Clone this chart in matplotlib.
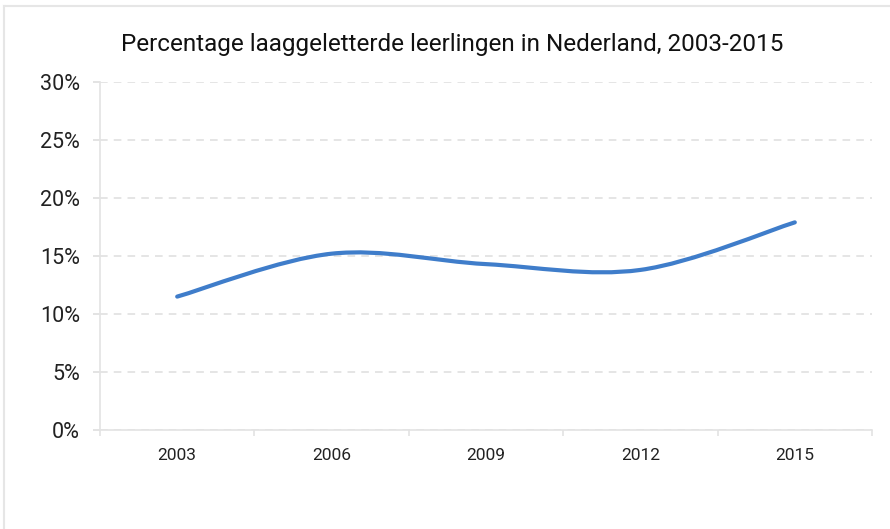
import numpy as np
import matplotlib
matplotlib.use('Agg')
import matplotlib.pyplot as plt
from matplotlib.path import Path
from matplotlib.patches import PathPatch
from matplotlib.lines import Line2D

years = ['2003', '2006', '2009', '2012', '2015']
percentages = [11.5, 15.2, 14.3, 13.8, 17.9]
y_ticks = [0, 5, 10, 15, 20, 25, 30]
title = 'Percentage laaggeletterde leerlingen in Nederland, 2003-2015'

line_color = '#3F7DCA'
grid_color = '#DEDEDE'
axis_color = '#E3E3E3'

plt.rcParams['font.family'] = ['Roboto', 'DejaVu Sans']

fig = plt.figure(figsize=(8.9, 5.29), dpi=100)
ax = fig.add_axes([100 / 890, 1 - 430 / 529, 772 / 890, 348 / 529])

# smoothed line (cardinal spline as cubic bezier segments)
x = np.arange(len(years), dtype=float)
y = np.array(percentages, dtype=float)
px = np.concatenate([[x[0]], x, [x[-1]]])
py = np.concatenate([[y[0]], y, [y[-1]]])
t = 1 / 6
verts = [(x[0], y[0])]
codes = [Path.MOVETO]
for i in range(1, len(px) - 2):
    c1 = (px[i] + (px[i + 1] - px[i - 1]) * t, py[i] + (py[i + 1] - py[i - 1]) * t)
    c2 = (px[i + 1] - (px[i + 2] - px[i]) * t, py[i + 1] - (py[i + 2] - py[i]) * t)
    verts += [c1, c2, (px[i + 1], py[i + 1])]
    codes += [Path.CURVE4] * 3
ax.add_patch(PathPatch(Path(verts, codes), fill=False, edgecolor=line_color,
                       lw=3.0, capstyle='round', joinstyle='round', zorder=3))

ax.set_xlim(-0.5, len(years) - 0.5)
ax.set_ylim(0, 30)
ax.set_xticks(x)
ax.set_xticklabels(years, fontsize=12.5, color='#222222')
ax.set_xticks(np.arange(len(years) + 1) - 0.5, minor=True)
ax.tick_params(axis='x', which='major', length=0, pad=13)
ax.tick_params(axis='x', which='minor', length=4.5, color=axis_color, width=1.2)

ax.set_yticks(y_ticks)
ax.set_yticklabels([f'{v}%' for v in y_ticks], fontsize=15.5, color='#222222')
ax.tick_params(axis='y', length=5, color=grid_color, width=1.2, pad=9.5)

ax.grid(axis='y', color=grid_color, linestyle=(0, (5, 4)), lw=1.1)
ax.set_axisbelow(True)
for side in ['top', 'right']:
    ax.spines[side].set_visible(False)
for side in ['left', 'bottom']:
    ax.spines[side].set_color(axis_color)
    ax.spines[side].set_linewidth(1.2)

fig.text(452 / 890, 1 - 44 / 529, title, ha='center', va='center',
         fontsize=17.5, color='#111111')

# outer frame (top and left edges)
fig.add_artist(Line2D([4 / 890, 1], [1 - 6 / 529, 1 - 6 / 529], color='#E6E6E6', lw=1.5))
fig.add_artist(Line2D([4 / 890, 4 / 890], [0, 1 - 6 / 529], color='#E6E6E6', lw=1.5))

fig.savefig('out.png', dpi=100)
